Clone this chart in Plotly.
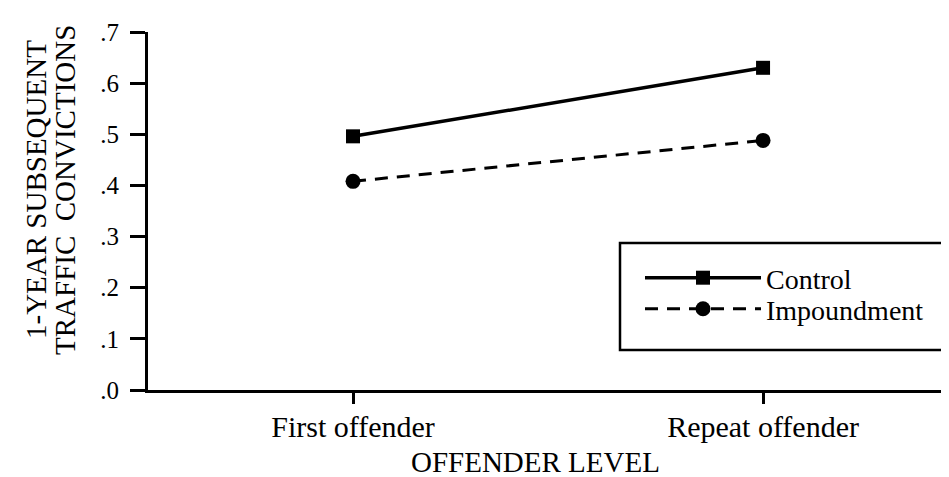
import plotly.graph_objects as go

categories = ["First offender", "Repeat offender"]
control = [0.496, 0.630]
impoundment = [0.408, 0.488]
y_ticks = [0, 0.1, 0.2, 0.3, 0.4, 0.5, 0.6, 0.7]
y_ticklabels = [".0", ".1", ".2", ".3", ".4", ".5", ".6", ".7"]
x_title = "OFFENDER LEVEL"
y_title_lines = ["1-YEAR SUBSEQUENT", "TRAFFIC  CONVICTIONS"]

FONT = "Liberation Serif"
W, H = 949, 477
L, R, T, B = 140, 0, 24, 95
PW, PH = W - L - R, H - T - B


def px_x(p):
    return (p - L) / PW


def px_y(p):
    return (H - B - p) / PH


xpos = list(range(len(categories)))

fig = go.Figure()
fig.add_trace(go.Scatter(
    x=xpos, y=control, name="Control", mode="lines+markers",
    line=dict(color="black", width=3.5),
    marker=dict(symbol="square", size=14, color="black"),
    legend="legend",
))
fig.add_trace(go.Scatter(
    x=xpos, y=impoundment, name="Impoundment", mode="lines+markers",
    line=dict(color="black", width=3, dash="13px,9px"),
    marker=dict(symbol="circle", size=15, color="black"),
    legend="legend2",
))

leg_common = dict(
    xanchor="left", yanchor="middle",
    borderwidth=0, bgcolor="rgba(0,0,0,0)",
    font=dict(family=FONT, size=28, color="black"),
    itemwidth=116,
)

fig.update_layout(
    width=W, height=H,
    paper_bgcolor="white", plot_bgcolor="white",
    margin=dict(l=L, r=R, t=T, b=B),
    font=dict(family=FONT, size=25, color="black"),
    showlegend=True,
    legend=dict(x=px_x(632), y=px_y(270), **leg_common),
    legend2=dict(x=px_x(632), y=px_y(301), **leg_common),
    xaxis=dict(
        range=[-0.5, 1.473],
        tickvals=xpos, ticktext=categories,
        showline=True, linecolor="black", linewidth=3,
        ticks="outside", ticklen=11, tickwidth=2.5, tickcolor="black",
        showgrid=False, zeroline=False,
        tickfont=dict(family=FONT, size=30),
        ticklabelstandoff=-3,
    ),
    yaxis=dict(
        range=[0, 0.7],
        tickvals=y_ticks, ticktext=y_ticklabels,
        showline=True, linecolor="black", linewidth=3,
        ticks="outside", ticklen=15, tickwidth=2.5, tickcolor="black",
        showgrid=False, zeroline=False,
        tickfont=dict(family=FONT, size=25),
        ticklabelstandoff=6,
    ),
    shapes=[dict(
        type="rect", xref="paper", yref="paper",
        x0=px_x(612), x1=px_x(975), y0=px_y(342), y1=px_y(235),
        line=dict(color="black", width=2.5), fillcolor="rgba(0,0,0,0)",
    )],
    annotations=[
        dict(text=x_title, xref="paper", yref="paper",
             x=px_x(527), y=px_y(454), showarrow=False,
             xanchor="center", yanchor="middle",
             font=dict(family=FONT, size=29)),
        dict(text=y_title_lines[0], xref="paper", yref="paper",
             x=px_x(28), y=px_y(182), showarrow=False, textangle=-90,
             xanchor="center", yanchor="middle",
             font=dict(family=FONT, size=29)),
        dict(text=y_title_lines[1], xref="paper", yref="paper",
             x=px_x(57), y=px_y(182), showarrow=False, textangle=-90,
             xanchor="center", yanchor="middle",
             font=dict(family=FONT, size=29)),
    ],
)

fig.write_html("out.html")
